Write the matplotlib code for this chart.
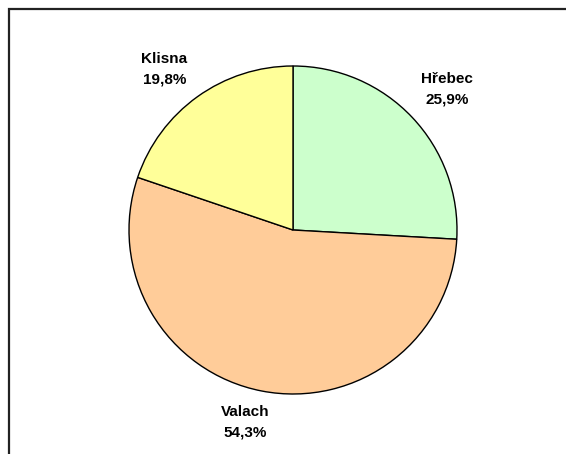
import numpy as np
import matplotlib.pyplot as plt
from matplotlib.patches import Rectangle

categories = ['Hřebec', 'Valach', 'Klisna']
shares = [25.9, 54.3, 19.8]
colors = ['#CCFFCC', '#FFCC99', '#FFFF99']
label_dist = [1.27, 1.21, 1.255]
label_turn = [-1, -3, 3]  # small angular nudges (degrees) of the labels

W, H = 566, 454
cx, cy, r = 293, 230, 164  # pie centre and radius in pixels

fig = plt.figure(figsize=(W / 100, H / 100), dpi=100)
ax = fig.add_axes([0, 0, 1, 1])

labels = [f"{c}\n{v:.1f}%".replace('.', ',') for c, v in zip(categories, shares)]
wedges, texts = ax.pie(shares, colors=colors, labels=labels, startangle=90,
                       counterclock=False,
                       wedgeprops=dict(edgecolor='black', linewidth=1.0))
for w, t, d, dt in zip(wedges, texts, label_dist, label_turn):
    ang = np.deg2rad((w.theta1 + w.theta2) / 2 + dt)
    t.set_position((d * np.cos(ang), d * np.sin(ang)))
    t.set_ha('center')
    t.set_va('center')
    t.set_fontfamily('Liberation Sans')
    t.set_fontweight('bold')
    t.set_fontsize(11)
    t.set_linespacing(1.6)

# map the axes so that one data unit equals r pixels
ax.set_aspect('auto')
ax.set_xlim(-cx / r, (W - cx) / r)
ax.set_ylim(-(H - cy) / r, cy / r)
ax.axis('off')

# chart area border (clipped at right and bottom in the original)
fig.add_artist(Rectangle((8.5 / W, -0.1), 1.2, (H - 9) / H + 0.1,
                         transform=fig.transFigure, fill=False,
                         edgecolor='#222222', linewidth=1.6))

fig.savefig('out.png', dpi=100)
